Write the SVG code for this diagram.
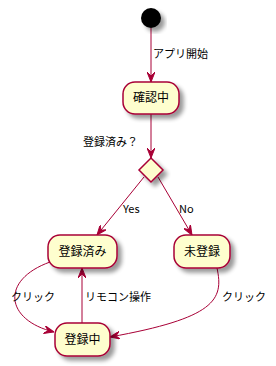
<svg xmlns="http://www.w3.org/2000/svg" width="276" height="366" viewBox="0 0 276 366">
<style>
.node{fill:#FEFECE;stroke:#A80036;stroke-width:1.5;filter:url(#sh)}
.edge{fill:none;stroke:#A80036;stroke-width:1;marker-end:url(#arr)}
.t{font-family:"Noto Sans CJK JP","DejaVu Sans",sans-serif;font-size:12px;fill:#000;text-anchor:middle}
.l{font-family:"Noto Sans CJK JP","DejaVu Sans",sans-serif;font-size:11px;fill:#000}
</style>
<defs>
<filter id="sh" x="-30%" y="-30%" width="160%" height="160%">
<feGaussianBlur in="SourceAlpha" stdDeviation="2"/>
<feOffset dx="4" dy="4" result="b"/>
<feComponentTransfer><feFuncA type="linear" slope="0.4"/></feComponentTransfer>
<feMerge><feMergeNode/><feMergeNode in="SourceGraphic"/></feMerge>
</filter>
<marker id="arr" viewBox="0 0 10 8" refX="10" refY="4" markerWidth="10" markerHeight="8" markerUnits="userSpaceOnUse" orient="auto">
<path d="M0,0 L10,4 L0,8 L4,4 Z" fill="#A80036" stroke="#A80036" stroke-width="1"/>
</marker>
</defs>
<g id="connectors">
<path class="edge" d="M151,28 L151,82"/>
<path class="edge" d="M151,114 L151,158"/>
<path class="edge" d="M144,177 L97,235"/>
<path class="edge" d="M158,177 L192,235"/>
<path class="edge" d="M50,262 C0,280 5,320 54,332"/>
<path class="edge" d="M82,323 L82,268"/>
<path class="edge" d="M217,268 C224,300 215,318 110,337"/>
<text class="l" x="153" y="58">アプリ開始</text>
<text class="l" x="83" y="146">登録済み？</text>
<text class="l" x="123" y="213">Yes</text>
<text class="l" x="179" y="213">No</text>
<text class="l" x="11" y="301">クリック</text>
<text class="l" x="85" y="301">リモコン操作</text>
<text class="l" x="222" y="301">クリック</text>
</g>
<g id="start"><circle cx="151" cy="18" r="10" fill="#000" filter="url(#sh)"/></g>
<g id="kakunin"><rect class="node" x="123" y="82" width="56" height="32" rx="12"/><text class="t" x="151" y="102">確認中</text></g>
<g id="decision"><polygon class="node" points="151,158 163,170 151,182 139,170"/></g>
<g id="tourokuzumi"><rect class="node" x="48" y="235" width="69" height="33" rx="12"/><text class="t" x="82.5" y="256">登録済み</text></g>
<g id="mitouroku"><rect class="node" x="174" y="235" width="56" height="33" rx="12"/><text class="t" x="202" y="256">未登録</text></g>
<g id="tourokuchu"><rect class="node" x="55" y="323" width="55" height="33" rx="12"/><text class="t" x="82.5" y="344">登録中</text></g>
</svg>
